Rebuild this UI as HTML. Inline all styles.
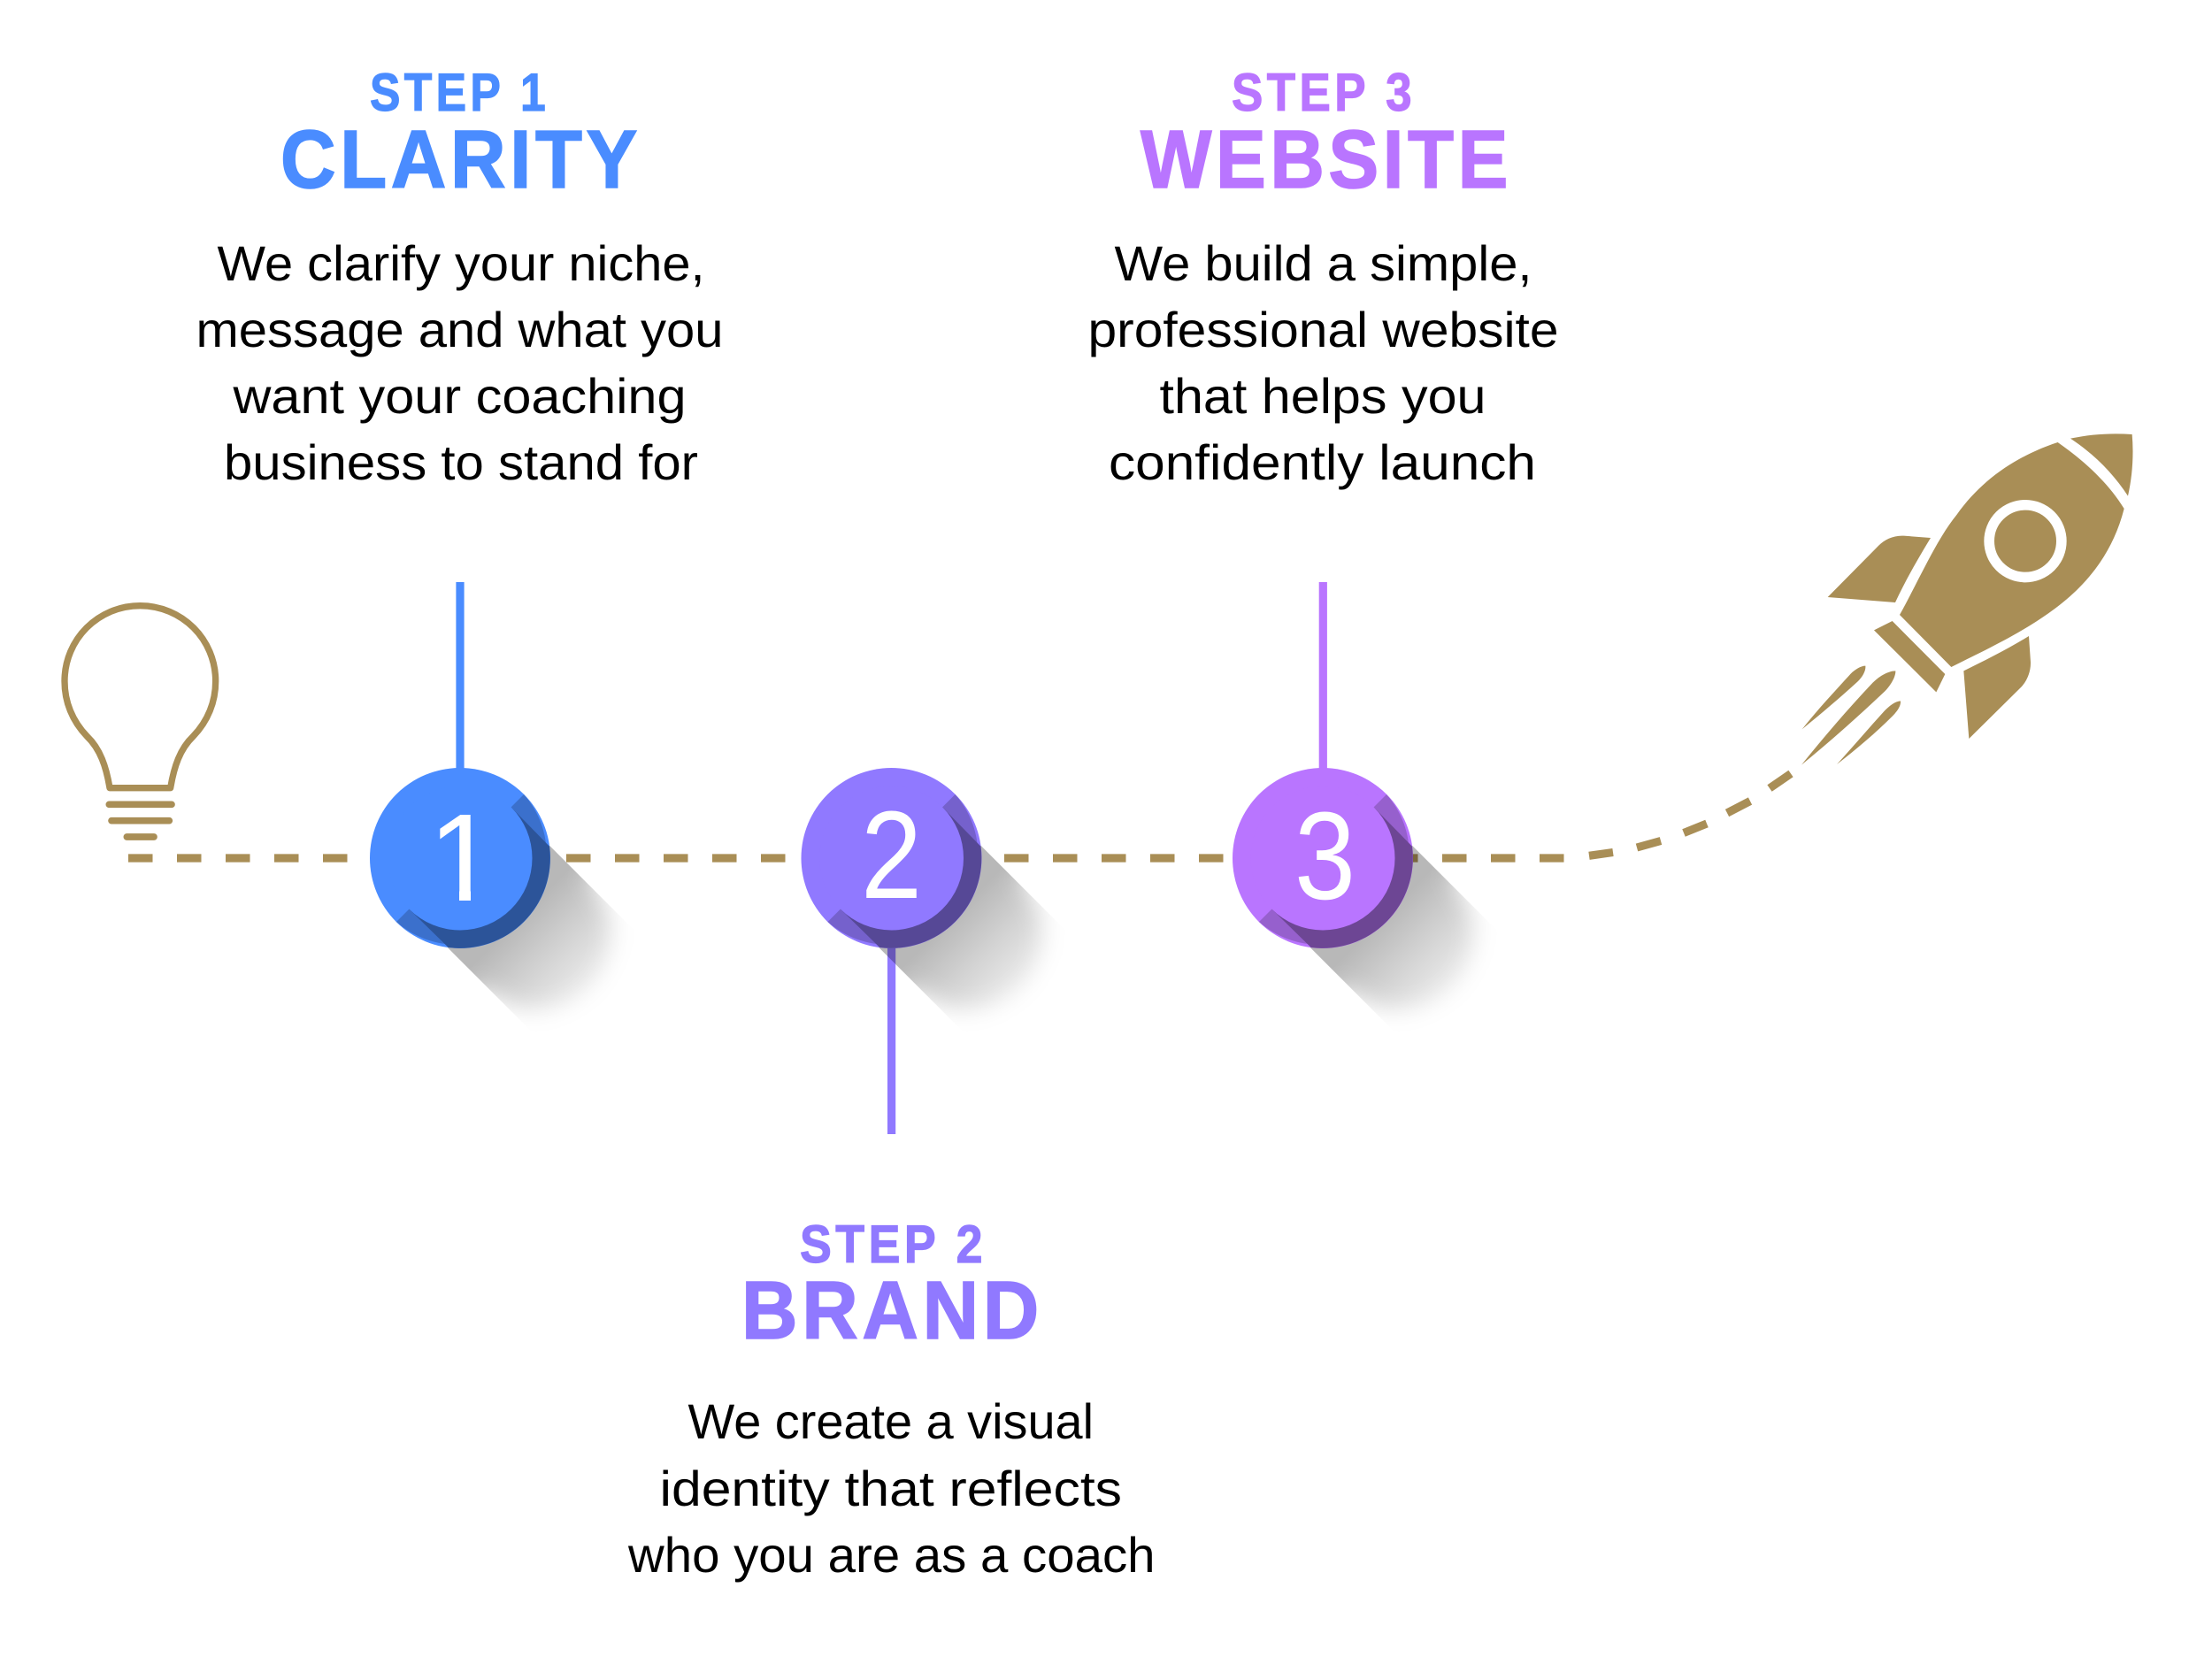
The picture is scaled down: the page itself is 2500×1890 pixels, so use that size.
<!DOCTYPE html>
<html lang="en">
<head>
<meta charset="utf-8">
<title>Steps</title>
<style>
html,body{margin:0;padding:0;background:#fff}
svg{display:block}
text{font-family:"Liberation Sans",sans-serif}
.b{font-size:56px;fill:#000}
.s{font-size:60px;font-weight:bold;letter-spacing:5px;stroke-width:1.2px}
.h{font-size:93px;font-weight:bold;letter-spacing:5px;stroke-width:1.6px}
.n{font-size:141px;fill:#fff}
</style>
</head>
<body>
<svg width="2500" height="1890" viewBox="0 0 2500 1890" xmlns="http://www.w3.org/2000/svg">
<defs>
  <linearGradient id="sg" gradientUnits="userSpaceOnUse" x1="95" y1="0" x2="225" y2="0">
    <stop offset="0" stop-color="#000" stop-opacity=".28"/>
    <stop offset=".4" stop-color="#000" stop-opacity=".18"/>
    <stop offset=".7" stop-color="#000" stop-opacity=".11"/>
    <stop offset="1" stop-color="#000" stop-opacity=".04"/>
  </linearGradient>
  <filter id="bl" filterUnits="userSpaceOnUse" x="-100" y="-250" width="500" height="500">
    <feGaussianBlur stdDeviation="13"/>
  </filter>
  <mask id="sm" maskUnits="userSpaceOnUse" x="-100" y="-250" width="500" height="500">
    <path d="M-30-150H100L125-84A84 84 0 0 1 125 84L100 150H-30Z" fill="#fff" filter="url(#bl)"/>
  </mask>
  <g id="shadow">
    <rect x="0" y="-81.5" width="260" height="163" fill="url(#sg)" mask="url(#sm)"/>
  </g>
  <clipPath id="nofoot">
    <rect x="470" y="900" width="100" height="106"/>
    <rect x="519" y="1000" width="13" height="20"/>
  </clipPath>
</defs>
<rect width="2500" height="1890" fill="#fff"/>

<!-- dashed path -->
<g stroke="#a98e56" stroke-width="9.2" fill="none">
  <path d="M145 970H1769" stroke-dasharray="27.5 27.5"/>
  <path d="M1796 967.3L1823 963.5"/>
  <path d="M1850 958L1877 950.5"/>
  <path d="M1903 941.5L1929 931"/>
  <path d="M1952 919L1978 905.5"/>
  <path d="M2000 891L2024 874.5"/>
</g>

<!-- stems -->
<rect x="515.4" y="658" width="9.2" height="215" fill="#4a8cff"/>
<rect x="1003" y="1060" width="9.2" height="222" fill="#9079ff"/>
<rect x="1490.7" y="658" width="9.2" height="215" fill="#b975ff"/>

<!-- circle 1 -->
<g transform="translate(520 970)">
  <g transform="rotate(45)"><use href="#shadow"/></g>
  <circle r="102" fill="#4a8cff"/>
  <path d="M72-72A102 102 0 0 1-72 72Z" fill="#3b70cc"/>
  <path d="M57.6-57.6L101-13.3A102 102 0 0 1-13.3 101L-57.6 57.6Z" fill="#2c5499"/>
  <circle r="81.5" fill="#4a8cff"/>
</g>
<g clip-path="url(#nofoot)"><text class="n" x="523" y="1018" text-anchor="middle">1</text></g>

<!-- circle 2 -->
<g transform="translate(1007.5 970)">
  <g transform="rotate(45)"><use href="#shadow"/></g>
  <circle r="102" fill="#9079ff"/>
  <path d="M72-72A102 102 0 0 1-72 72Z" fill="#7561cc"/>
  <path d="M57.6-57.6L101-13.3A102 102 0 0 1-13.3 101L-57.6 57.6Z" fill="#564896"/>
  <circle r="81.5" fill="#9079ff"/>
</g>
<text class="n" x="973" y="1015" textLength="69" lengthAdjust="spacingAndGlyphs">2</text>

<!-- circle 3 -->
<g transform="translate(1495 970)">
  <g transform="rotate(45)"><use href="#shadow"/></g>
  <circle r="102" fill="#b975ff"/>
  <path d="M72-72A102 102 0 0 1-72 72Z" fill="#9660cd"/>
  <path d="M57.6-57.6L101-13.3A102 102 0 0 1-13.3 101L-57.6 57.6Z" fill="#6d4694"/>
  <circle r="81.5" fill="#b975ff"/>
</g>
<text class="n" x="1463" y="1016" textLength="69" lengthAdjust="spacingAndGlyphs">3</text>

<!-- bulb -->
<g transform="translate(50 670) scale(.33333)" fill="none" stroke="#a98e56" stroke-linejoin="round" stroke-linecap="round">
  <path stroke-width="22" d="M222 662C210 590 190 530 145 487C95 435 69 370 69 300C69 158 183 44 325 44C467 44 581 158 581 300C581 370 555 435 505 487C460 530 440 590 428 662Z"/>
  <path stroke-width="23" d="M220 718H432M228 773H424M280 828H372"/>
</g>

<!-- rocket -->
<g transform="translate(2020 470) scale(.33333)" fill="#a98e56">
  <path d="M917 90C780 135 660 215 575 335C505 420 440 570 381 675L556 852C640 810 780 745 885 670C1000 590 1100 480 1142 315C1090 230 1010 155 917 90Z"/>
  <path d="M960 77C1030 62 1100 58 1169 63C1175 135 1170 205 1155 272C1105 195 1040 130 960 77Z"/>
  <circle cx="807" cy="425" r="122.5" fill="none" stroke="#fff" stroke-width="35"/>
  <path d="M486 414L395 407C360 405 330 420 310 440L137 615L366 633C400 560 440 490 486 414Z"/>
  <path d="M819 747L825 835C826 865 815 895 795 918L616 1095L598 865C670 830 750 790 819 747Z"/>
  <path d="M356 696L535 876L505 937L294 727Z"/>
  <path d="M50 1063C100 1000 160 935 215 875C230 860 250 848 265 848C267 865 255 885 240 900C180 955 115 1010 50 1063Z"/>
  <path d="M48 1184C120 1095 200 1000 290 905C315 880 345 865 367 865C368 885 350 915 330 935C240 1020 145 1105 48 1184Z"/>
  <path d="M168 1182C220 1125 280 1055 330 1000C345 985 365 968 384 967C386 985 370 1005 355 1020C300 1075 235 1130 168 1182Z"/>
</g>

<!-- step 1 -->
<text class="s" fill="#4a8cff" stroke="#4a8cff" x="418" y="125" textLength="203" lengthAdjust="spacingAndGlyphs">STEP 1</text>
<text class="h" fill="#4a8cff" stroke="#4a8cff" x="317" y="212" textLength="408" lengthAdjust="spacingAndGlyphs">CLARITY</text>
<text class="b" x="245.5" y="317" textLength="551" lengthAdjust="spacingAndGlyphs">We clarify your niche,</text>
<text class="b" x="221.5" y="392" textLength="596" lengthAdjust="spacingAndGlyphs">message and what you</text>
<text class="b" x="263.5" y="467" textLength="512" lengthAdjust="spacingAndGlyphs">want your coaching</text>
<text class="b" x="253" y="542" textLength="536" lengthAdjust="spacingAndGlyphs">business to stand for</text>

<!-- step 3 -->
<text class="s" fill="#b975ff" stroke="#b975ff" x="1392" y="125" textLength="208" lengthAdjust="spacingAndGlyphs">STEP 3</text>
<text class="h" fill="#b975ff" stroke="#b975ff" x="1289" y="212" textLength="420" lengthAdjust="spacingAndGlyphs">WEBSITE</text>
<text class="b" x="1259.5" y="317" textLength="472" lengthAdjust="spacingAndGlyphs">We build a simple,</text>
<text class="b" x="1229.5" y="392" textLength="532" lengthAdjust="spacingAndGlyphs">professional website</text>
<text class="b" x="1310.5" y="467" textLength="369" lengthAdjust="spacingAndGlyphs">that helps you</text>
<text class="b" x="1253" y="542" textLength="483" lengthAdjust="spacingAndGlyphs">confidently launch</text>

<!-- step 2 -->
<text class="s" fill="#9079ff" stroke="#9079ff" x="904" y="1427" textLength="211" lengthAdjust="spacingAndGlyphs">STEP 2</text>
<text class="h" fill="#9079ff" stroke="#9079ff" x="838" y="1513" textLength="341" lengthAdjust="spacingAndGlyphs">BRAND</text>
<text class="b" x="777.5" y="1626" textLength="458.5" lengthAdjust="spacingAndGlyphs">We create a visual</text>
<text class="b" x="745.5" y="1702" textLength="522.5" lengthAdjust="spacingAndGlyphs">identity that reflects</text>
<text class="b" x="710" y="1777" textLength="595.5" lengthAdjust="spacingAndGlyphs">who you are as a coach</text>
</svg>
</body>
</html>
